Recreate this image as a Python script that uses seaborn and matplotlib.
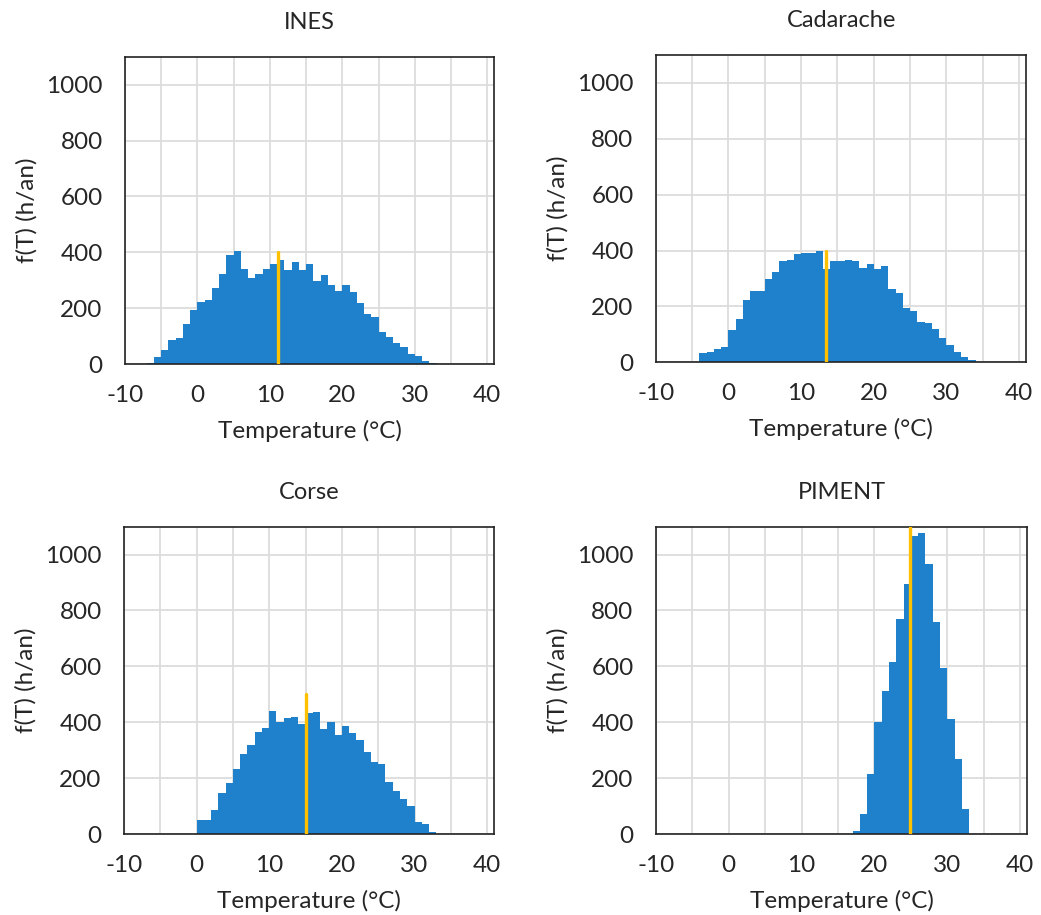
import numpy as np
import pandas as pd
import matplotlib
matplotlib.use("Agg")
import matplotlib.pyplot as plt
import seaborn as sns
from matplotlib.ticker import MultipleLocator

# hours per year in each 1 degC temperature class (left edge of class)
ines_t = list(range(-8, 33))
ines_h = [2, 5, 25, 51, 86, 95, 143, 194, 221, 230, 274, 324, 392, 404, 340, 308,
          324, 342, 359, 371, 338, 367, 338, 358, 298, 319, 283, 261, 282, 258,
          218, 181, 169, 114, 99, 74, 61, 37, 29, 12, 5]

cada_t = list(range(-4, 34))
cada_h = [32, 37, 46, 55, 115, 155, 224, 256, 256, 298, 325, 361, 365, 388, 393,
          393, 397, 333, 361, 361, 365, 361, 338, 352, 333, 343, 264, 248, 196,
          183, 146, 140, 119, 87, 63, 37, 19, 10]

corse_t = list(range(0, 33))
corse_h = [49, 49, 86, 145, 181, 232, 286, 318, 364, 378, 441, 401, 414, 419, 393,
           432, 437, 377, 400, 356, 387, 361, 336, 292, 259, 250, 186, 154, 127,
           99, 44, 35, 7]

piment_t = list(range(17, 33))
piment_h = [12, 71, 214, 402, 512, 616, 769, 896, 1066, 1078, 966, 758, 595, 412,
            269, 90]

# mean temperature marker (x, height of the line)
titles = ["INES", "Cadarache", "Corse", "PIMENT"]
mean_t = [11.1, 13.4, 15.0, 24.9]
mean_top = [400, 400, 500, 1100]

series = [(ines_t, ines_h), (cada_t, cada_h), (corse_t, corse_h), (piment_t, piment_h)]

sns.set_style("white")
plt.rcParams["font.family"] = ["Lato", "DejaVu Sans"]
plt.rcParams["axes.unicode_minus"] = False

fig = plt.figure(figsize=(10.41, 9.15), dpi=100)
boxes = [
    [0.120, 0.602, 0.355, 0.336],
    [0.630, 0.604, 0.356, 0.336],
    [0.119, 0.0885, 0.356, 0.336],
    [0.630, 0.0885, 0.357, 0.336],
]

bar_color = "#1f80cc"
for box, (t, h), title, mt, top in zip(boxes, series, titles, mean_t, mean_top):
    ax = fig.add_axes(box)
    df = pd.DataFrame({"temp": np.array(t, dtype=float) + 0.5,
                       "hours": np.array(h, dtype=float)})
    sns.histplot(data=df, x="temp", weights="hours",
                 binwidth=1, binrange=(t[0], t[-1] + 1),
                 color=bar_color, alpha=1, linewidth=0,
                 ax=ax, zorder=2)
    ax.plot([mt, mt], [0, top], color="#ffc000", lw=2.4, zorder=3)

    ax.set_xlim(-10, 41)
    ax.set_ylim(0, 1100)
    ax.xaxis.set_major_locator(MultipleLocator(10))
    ax.xaxis.set_minor_locator(MultipleLocator(5))
    ax.set_yticks(range(0, 1001, 200))
    ax.grid(True, which="both", axis="x", color="#dcdcdc", lw=1.3, zorder=0)
    ax.grid(True, which="major", axis="y", color="#dcdcdc", lw=1.3, zorder=0)
    ax.set_axisbelow(True)
    ax.tick_params(axis="x", which="both", direction="out", length=6, width=1,
                   color="#333333", labelsize=17.5, pad=9)
    ax.tick_params(axis="y", length=0, labelsize=17.5, pad=16)
    for s in ax.spines.values():
        s.set_color("#222222")
        s.set_linewidth(1.2)

    ax.set_title(title, fontsize=17, pad=20, color="#262626")
    ax.set_xlabel("Temperature (°C)", fontsize=17.5, labelpad=10)
    ax.set_ylabel("f(T) (h/an)", fontsize=17.5, labelpad=6)

fig.savefig("out.png", dpi=100)
